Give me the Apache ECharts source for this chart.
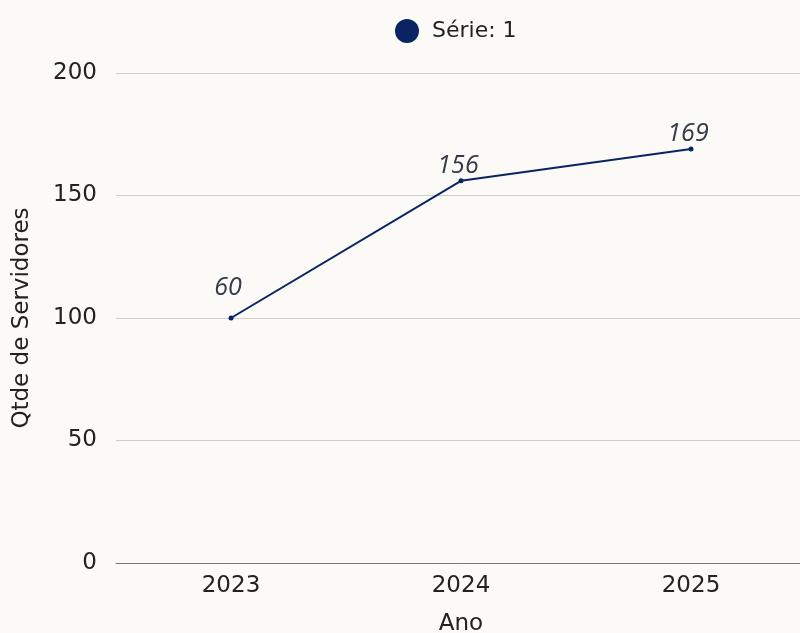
<!DOCTYPE html>
<html><head><meta charset="utf-8">
<script src="https://cdn.jsdelivr.net/npm/echarts@6/dist/echarts.min.js"></script>
<style>html,body{margin:0;padding:0;background:#fbfaf7;}#c{width:800px;height:633px;}</style>
</head><body><div id="c"></div>
<script>
const categories = ['2023', '2024', '2025'];
const values = [100, 156, 169];
const labels = ['60', '156', '169'];
const yTicks = [0, 50, 100, 150, 200];
const seriesName = 'Série: 1';

const chart = echarts.init(document.getElementById('c'));
const font = '"DejaVu Sans", "Noto Sans", sans-serif';
chart.setOption({
  backgroundColor: '#fbfaf7',
  animation: false,
  legend: {
    top: 14, left: 390, icon: 'circle', itemWidth: 24, itemHeight: 24, itemGap: 12,
    textStyle: { fontFamily: font, fontSize: 22, color: '#222', padding: [0, 0, 0, 8] },
    data: [seriesName]
  },
  grid: { left: 116, right: -6, top: 73, bottom: 70, outerBoundsMode: 'none', containLabel: false },
  xAxis: {
    type: 'category', data: categories, boundaryGap: true,
    name: 'Ano', nameLocation: 'middle', nameGap: 50,
    nameTextStyle: { fontFamily: font, fontSize: 23, color: '#222' },
    axisLine: { lineStyle: { color: '#777' } },
    axisTick: { show: false },
    axisLabel: { fontFamily: font, fontSize: 23, color: '#222', margin: 12 }
  },
  yAxis: {
    type: 'value', min: yTicks[0], max: yTicks[yTicks.length - 1], interval: 50,
    name: 'Qtde de Servidores', nameLocation: 'middle', nameGap: 82,
    nameTextStyle: { fontFamily: font, fontSize: 23, color: '#222' },
    axisLine: { show: false }, axisTick: { show: false },
    axisLabel: { fontFamily: font, fontSize: 23, color: '#222', margin: 19 },
    splitLine: { lineStyle: { color: '#cfcfcf', width: 1 } }
  },
  series: [{
    name: seriesName, type: 'line',
    data: values.map((v, i) => ({
      value: v,
      label: { distance: i === 0 ? 15 : 0 }
    })),
    color: '#0a2463',
    symbol: 'circle', symbolSize: 5,
    lineStyle: { width: 2, color: '#0a2463' },
    label: {
      show: true, position: 'top', offset: [-3, 0],
      formatter: p => labels[p.dataIndex],
      fontFamily: '"Open Sans", "Noto Sans", sans-serif', fontStyle: 'italic',
      fontSize: 25, color: '#353a48'
    }
  }]
});
</script></body></html>
